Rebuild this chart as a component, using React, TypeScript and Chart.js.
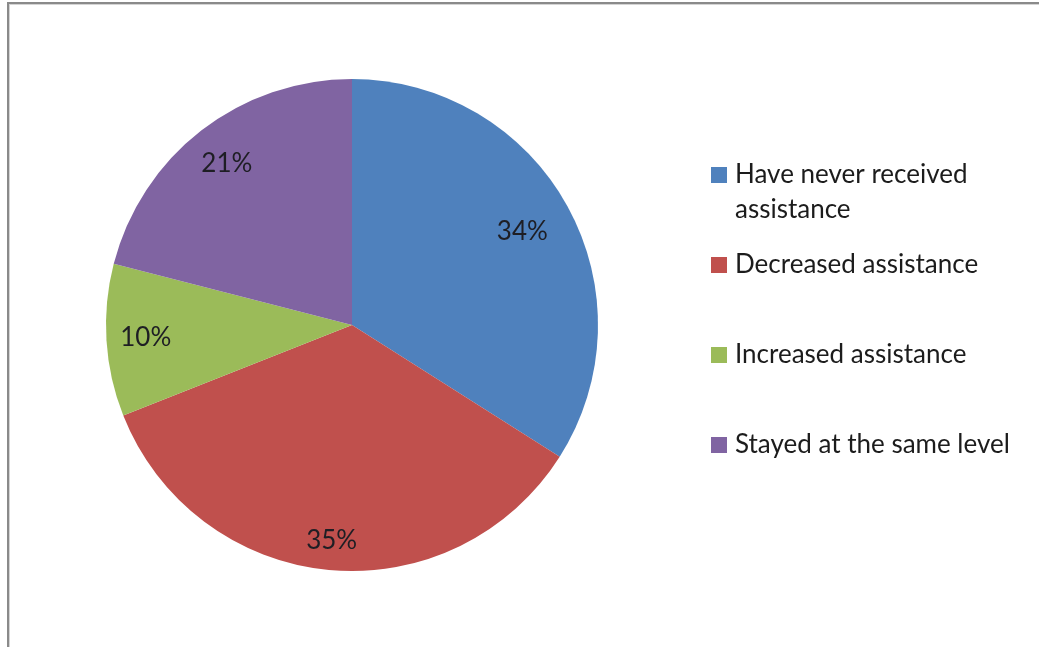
import React, { useEffect, useRef } from "react";
import { Chart, registerables } from "chart.js";

Chart.register(...registerables);

const categories = [
  "Have never received assistance",
  "Decreased assistance",
  "Increased assistance",
  "Stayed at the same level",
];
const legendLines = [
  ["Have never received", "assistance"],
  ["Decreased assistance"],
  ["Increased assistance"],
  ["Stayed at the same level"],
];
const shares = [34, 35, 10, 21];
const valueLabels = ["34%", "35%", "10%", "21%"];
const colors = ["#4F81BD", "#C0504D", "#9BBB59", "#8064A2"];

const FONT = "Lato, 'Open Sans', sans-serif";

const framePlugin = {
  id: "frame",
  beforeDraw(chart: any) {
    const ctx = chart.ctx;
    ctx.save();
    ctx.fillStyle = "#ffffff";
    ctx.fillRect(0, 0, chart.width, chart.height);
    ctx.fillStyle = "#d4d4d4";
    ctx.fillRect(7, 4, chart.width - 7, 1);
    ctx.fillRect(9, 4, 1, chart.height - 4);
    ctx.fillStyle = "#8a8a8a";
    ctx.fillRect(7, 2, chart.width - 7, 2);
    ctx.fillRect(7, 2, 2, chart.height - 2);
    ctx.restore();
  },
};

const sliceLabelPlugin = {
  id: "sliceLabels",
  afterDatasetsDraw(chart: any, _args: any, opts: any) {
    const ctx = chart.ctx;
    const meta = chart.getDatasetMeta(0);
    const fr: number[] = opts.fractions;
    ctx.save();
    ctx.font = `${opts.size}px ${FONT}`;
    ctx.fillStyle = "#1e1e24";
    ctx.textAlign = "center";
    ctx.textBaseline = "middle";
    meta.data.forEach((arc: any, i: number) => {
      const p = arc.getProps(["x", "y", "startAngle", "endAngle", "outerRadius"], true);
      const mid = (p.startAngle + p.endAngle) / 2;
      const r = p.outerRadius * fr[i];
      ctx.fillText(valueLabels[i], p.x + Math.cos(mid) * r, p.y + Math.sin(mid) * r);
    });
    ctx.restore();
  },
};

const legendPlugin = {
  id: "sideLegend",
  afterDraw(chart: any, _args: any, opts: any) {
    const ctx = chart.ctx;
    ctx.save();
    ctx.beginPath();
    ctx.rect(0, 0, opts.clipRight, chart.height);
    ctx.clip();
    ctx.font = `${opts.size}px ${FONT}`;
    ctx.textAlign = "left";
    ctx.textBaseline = "alphabetic";
    legendLines.forEach((lines, i) => {
      const base = opts.firstBaseline + i * opts.rowGap;
      ctx.fillStyle = colors[i];
      ctx.fillRect(opts.boxX, base - opts.box, opts.box, opts.box);
      ctx.fillStyle = "#1c1c1c";
      lines.forEach((ln, j) => {
        ctx.fillText(ln, opts.textX, base + j * opts.lineGap);
      });
    });
    ctx.restore();
  },
};

export default function App() {
  const ref = useRef<HTMLCanvasElement | null>(null);
  useEffect(() => {
    if (!ref.current) return;
    const chart = new Chart(ref.current, {
      type: "pie",
      data: {
        labels: categories,
        datasets: [
          {
            data: shares,
            backgroundColor: colors,
            borderWidth: 0,
          },
        ],
      },
      options: {
        responsive: false,
        animation: false,
        devicePixelRatio: 1,
        layout: { padding: { left: 106, right: 441, top: 78, bottom: 75 } },
        plugins: {
          legend: { display: false },
          tooltip: { enabled: false },
          sliceLabels: { fractions: [0.79, 0.88, 0.84, 0.83], size: 26 },
          sideLegend: {
            size: 26,
            boxX: 711,
            box: 16,
            textX: 735,
            firstBaseline: 183,
            rowGap: 90,
            lineGap: 35,
            clipRight: 1016,
          },
        } as any,
      },
      plugins: [framePlugin, sliceLabelPlugin, legendPlugin],
    });
    return () => chart.destroy();
  }, []);
  return (
    <div style={{ position: "fixed", left: 0, top: 0, width: 1039, height: 647, background: "#fff" }}>
      <canvas ref={ref} width={1039} height={647} style={{ width: 1039, height: 647, display: "block" }} />
    </div>
  );
}
